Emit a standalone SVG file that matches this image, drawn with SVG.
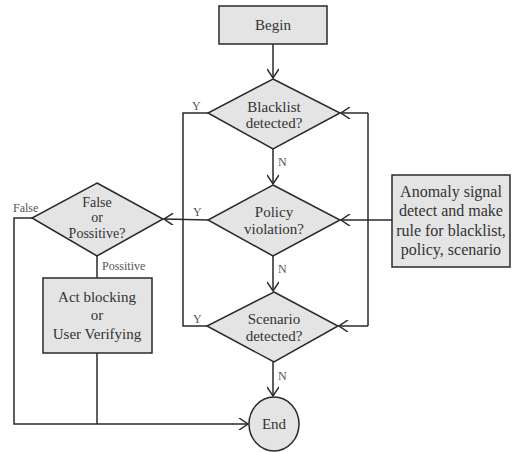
<svg xmlns="http://www.w3.org/2000/svg" width="516" height="452" viewBox="0 0 516 452">
<defs>
<marker id="arr" markerWidth="12" markerHeight="12" refX="10" refY="6" orient="auto" markerUnits="userSpaceOnUse">
<path d="M1,0 L10,6 L1,12" fill="none" stroke="#2a2a2a" stroke-width="1.5"/>
</marker>
<style>
.shape{fill:#e4e4e4;stroke:#2a2a2a;stroke-width:1.5}
.t{font-family:"Liberation Serif","DejaVu Serif",serif;font-size:15px;fill:#333;text-anchor:middle}
.big{font-size:16px}
.sm{font-size:14px}
.lbl{font-family:"Liberation Serif","DejaVu Serif",serif;font-size:12px;fill:#555}
.c{fill:none;stroke:#2a2a2a;stroke-width:1.5}
</style>
</defs>
<rect width="516" height="452" fill="#fff"/>
<g id="connectors">
<line class="c" x1="273" y1="44" x2="273" y2="78" marker-end="url(#arr)"/>
<line class="c" x1="273" y1="149" x2="273" y2="184" marker-end="url(#arr)"/>
<line class="c" x1="273" y1="256" x2="273" y2="291" marker-end="url(#arr)"/>
<line class="c" x1="273" y1="362" x2="273" y2="396" marker-end="url(#arr)"/>
<polyline class="c" points="208,113 183,113 183,326 208,326"/>
<line class="c" x1="208" y1="220" x2="164" y2="219" marker-end="url(#arr)"/>
<line class="c" x1="368" y1="113" x2="368" y2="326"/>
<line class="c" x1="368" y1="113" x2="341" y2="113" marker-end="url(#arr)"/>
<line class="c" x1="368" y1="326" x2="339" y2="326" marker-end="url(#arr)"/>
<line class="c" x1="392" y1="220" x2="341" y2="220" marker-end="url(#arr)"/>
<polyline class="c" points="32,218 14,218 14,424 248,424" marker-end="url(#arr)"/>
<line class="c" x1="97" y1="256" x2="97" y2="278"/>
<line class="c" x1="97" y1="353" x2="97" y2="424"/>
<text class="lbl" x="192" y="110">Y</text>
<text class="lbl" x="278" y="166">N</text>
<text class="lbl" x="193" y="216">Y</text>
<text class="lbl" x="278" y="273">N</text>
<text class="lbl" x="193" y="323">Y</text>
<text class="lbl" x="278" y="380">N</text>
<text class="lbl" x="13" y="212">False</text>
<text class="lbl" x="102" y="270">Possitive</text>
</g>
<g id="begin">
<rect class="shape" x="219" y="6" width="108" height="38"/>
<text class="t" x="273" y="30">Begin</text>
</g>
<g id="blacklist">
<polygon class="shape" points="273,79 340,113 273,149 208,113"/>
<text class="t" x="274" y="112">Blacklist</text>
<text class="t" x="274" y="128">detected?</text>
</g>
<g id="policy">
<polygon class="shape" points="273,185 340,220 273,256 208,220"/>
<text class="t" x="274" y="217">Policy</text>
<text class="t" x="274" y="234">violation?</text>
</g>
<g id="scenario">
<polygon class="shape" points="274,292 338,326 274,362 207,326"/>
<text class="t" x="274" y="324">Scenario</text>
<text class="t" x="274" y="341">detected?</text>
</g>
<g id="end">
<ellipse class="shape" cx="274" cy="424" rx="25" ry="27"/>
<text class="t" x="274" y="429">End</text>
</g>
<g id="falsepos">
<polygon class="shape" points="97,183 163,219 97,256 32,218"/>
<text class="t sm" x="97" y="207">False</text>
<text class="t sm" x="97" y="222">or</text>
<text class="t sm" x="97" y="238">Possitive?</text>
</g>
<g id="act">
<rect class="shape" x="43" y="278" width="109" height="75"/>
<text class="t" x="97" y="302">Act blocking</text>
<text class="t" x="97" y="320">or</text>
<text class="t" x="97" y="339">User Verifying</text>
</g>
<g id="anomaly">
<rect class="shape" x="392" y="175" width="118" height="92"/>
<text class="t big" x="451" y="197">Anomaly signal</text>
<text class="t big" x="451" y="216">detect and make</text>
<text class="t big" x="451" y="236">rule for blacklist,</text>
<text class="t big" x="451" y="255">policy, scenario</text>
</g>
</svg>
